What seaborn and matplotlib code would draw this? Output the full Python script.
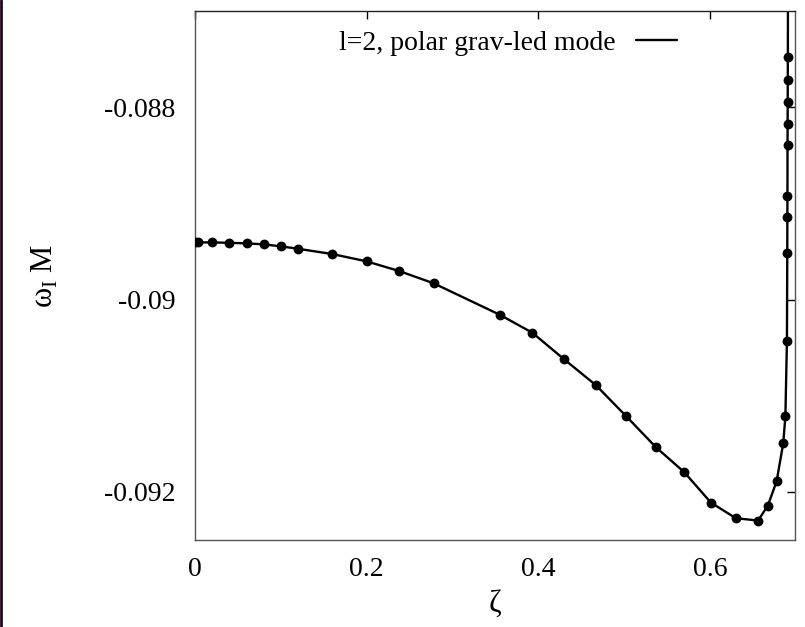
import matplotlib
matplotlib.use("Agg")
import matplotlib.pyplot as plt
from matplotlib.lines import Line2D
import seaborn as sns
import pandas as pd

zeta = [0.0, 0.004, 0.020, 0.040, 0.060, 0.080, 0.100, 0.120, 0.160, 0.200,
        0.238, 0.278, 0.355, 0.393, 0.430, 0.467, 0.502, 0.537, 0.570, 0.601,
        0.630, 0.656, 0.6674, 0.6776, 0.6853, 0.6878, 0.6896, 0.6900, 0.6901,
        0.6902, 0.6903, 0.6904, 0.6905, 0.6906, 0.6907, 0.6908]
omega_I_M = [-0.089406, -0.089406, -0.089406, -0.089410, -0.089416, -0.089426,
             -0.089447, -0.089472, -0.089527, -0.089603, -0.089704, -0.089831,
             -0.090158, -0.090345, -0.090621, -0.090890, -0.091210, -0.091536,
             -0.091795, -0.092111, -0.092273, -0.092298, -0.092142, -0.091889,
             -0.091494, -0.091214, -0.090431, -0.089520, -0.089140, -0.088924,
             -0.088388, -0.088177, -0.087945, -0.087719, -0.087477, -0.086700]
legend_label = "l=2, polar grav-led mode"
x_ticks = [0, 0.2, 0.4, 0.6]
x_ticklabels = ["0", "0.2", "0.4", "0.6"]
y_ticks = [-0.092, -0.090, -0.088]
y_ticklabels = ["-0.092", "-0.09", "-0.088"]

df = pd.DataFrame({"zeta": zeta, "omega": omega_I_M})

sns.set_theme(style="white")
plt.rcParams["font.family"] = ["Liberation Serif", "DejaVu Serif"]
plt.rcParams["mathtext.fontset"] = "custom"
plt.rcParams["mathtext.rm"] = "Liberation Serif"
plt.rcParams["text.color"] = "black"
plt.rcParams["axes.labelcolor"] = "black"

fig = plt.figure(figsize=(8.05, 6.27), dpi=100)
ax = fig.add_axes([195/805, 1-540/627, 600/805, 529/627])

sns.lineplot(data=df, x="zeta", y="omega", ax=ax, color="black", linewidth=1.7,
             sort=False, estimator=None, label=legend_label)
sns.scatterplot(data=df, x="zeta", y="omega", ax=ax, color="black", s=50,
                edgecolor="black", linewidth=0, zorder=3, legend=False)

ax.set_xlim(0, 0.699)
ax.set_ylim(-0.0925, -0.0870)
ax.set_xticks(x_ticks)
ax.set_xticklabels(x_ticklabels)
ax.set_yticks(y_ticks)
ax.set_yticklabels(y_ticklabels)
ax.tick_params(axis="both", direction="in", length=6, width=1, colors="black",
               labelsize=20, top=True, right=True)
ax.tick_params(axis="x", pad=12)
ax.tick_params(axis="y", pad=14)
for sp in ax.spines.values():
    sp.set_color("#555555")
    sp.set_linewidth(1.0)
ax.spines["top"].set_color("#222222")

ax.set_xlabel("ζ", fontsize=22, labelpad=6, color="black")
ax.set_ylabel(r"ω$_{\rm I}$ M", fontsize=22, labelpad=32, color="black")

leg = ax.legend(loc="upper right", bbox_to_anchor=(0.835, 1.0), frameon=False,
                fontsize=20, markerfirst=False, handlelength=1.45, handletextpad=0.75,
                borderaxespad=0.3)
for t in leg.get_texts():
    t.set_color("black")
for h in leg.legend_handles:
    h.set_linewidth(1.7)

fig.add_artist(Line2D([1/805, 1/805], [0, 1], transform=fig.transFigure,
                      color="#250525", linewidth=2))

fig.savefig("out.png", dpi=100)
